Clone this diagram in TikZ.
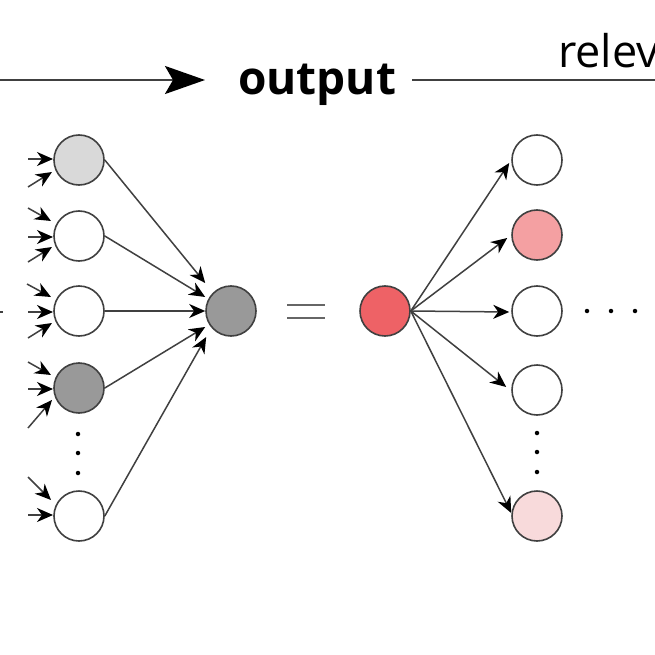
\documentclass[tikz,border=0pt]{standalone}
\usepackage{fontspec}
\newfontfamily\osans{Open Sans}
\usetikzlibrary{arrows.meta,calc}
\definecolor{strokec}{HTML}{404040}
\definecolor{lgray}{HTML}{D9D9D9}
\definecolor{mgray}{HTML}{999999}
\definecolor{redc}{HTML}{EE6266}
\definecolor{pinkc}{HTML}{F4A0A2}
\definecolor{palepink}{HTML}{F8DADB}
\tikzset{
  neuron/.style={circle,draw=strokec,line width=1.6pt,minimum size=50pt,inner sep=0pt,fill=white},
  conn/.style={draw=strokec,line width=1.5pt,-{Stealth[length=16pt,width=14pt,inset=5pt,black]}},
  topline/.style={draw=strokec,line width=2.2pt},
  dotc/.style={circle,fill=black,inner sep=0pt,minimum size=4.5pt},
}
\begin{document}
\begin{tikzpicture}[x=1pt,y=-1pt]
\useasboundingbox (0,0) rectangle (655,655);
\clip (0,0) rectangle (655,655);
\fill[white] (0,0) rectangle (655,655);
% top line with text
\node[font=\osans\bfseries\fontsize{46}{50}\selectfont,anchor=base,inner sep=0pt] (out) at (317,95) {output};
\node[font=\osans\fontsize{45}{50}\selectfont,anchor=base west,inner sep=0pt] (rel) at (558,68) {relev};
\coordinate (tl0) at (0,80);
\coordinate (tl1) at (205,80);
\coordinate (tr0) at (412,80);
\coordinate (tr1) at (660,80);
\draw[topline,-{Stealth[length=40pt,width=28pt,inset=8pt,black]}] (tl0) -- (tl1);
\draw[topline] (tr0) -- (tr1);
% left edge mark
\coordinate (mk0) at (-1,312);
\coordinate (mk1) at (3,312);
\draw[draw=strokec,line width=1.5pt] (mk0) -- (mk1);
% left column
\node[neuron,fill=lgray] (c1) at (79,160) {};
\node[neuron] (c2) at (79,236) {};
\node[neuron] (c3) at (79,311) {};
\node[neuron,fill=mgray] (c4) at (79,388) {};
\node[neuron] (c5) at (79,516) {};
\node[dotc] (ld1) at (78,434) {};
\node[dotc] (ld2) at (78,453) {};
\node[dotc] (ld3) at (78,473) {};
% inputs to left column
\draw[conn] ($(c1)+(-51,-1)$) -- ($(c1)+(-26,-1)$);
\draw[conn] ($(c1)+(-51,27)$) -- ($(c1)+(-27,12)$);
\draw[conn] ($(c2)+(-51,-28)$) -- ($(c2)+(-28,-15)$);
\draw[conn] ($(c2)+(-51,1)$) -- ($(c2)+(-26,1)$);
\draw[conn] ($(c2)+(-51,26)$) -- ($(c2)+(-27,11)$);
\draw[conn] ($(c3)+(-52,-27)$) -- ($(c3)+(-28,-14)$);
\draw[conn] ($(c3)+(-51,1)$) -- ($(c3)+(-26,1)$);
\draw[conn] ($(c3)+(-51,27)$) -- ($(c3)+(-27,12)$);
\draw[conn] ($(c4)+(-51,-26)$) -- ($(c4)+(-28,-13)$);
\draw[conn] ($(c4)+(-51,1)$) -- ($(c4)+(-26,1)$);
\draw[conn] ($(c4)+(-51,40)$) -- ($(c4)+(-27,12)$);
\draw[conn] ($(c5)+(-51,-39)$) -- ($(c5)+(-28,-16)$);
\draw[conn] ($(c5)+(-51,-1)$) -- ($(c5)+(-26,-1)$);
% middle
\node[neuron,fill=mgray] (m) at (231,311) {};
\draw[conn] (c1.east) -- ($(m.west)+(0,-28)$);
\draw[conn] (c2.east) -- ($(m.west)+(0,-14)$);
\draw[conn] (c3.east) -- (m.west);
\draw[conn] (c4.east) -- ($(m.west)+(0,16)$);
\draw[conn] (c5.east) -- ($(m.west)+(1,26)$);
% equals
\coordinate (e1a) at (287,305);
\coordinate (e1b) at (325,305);
\coordinate (e2a) at (287,318);
\coordinate (e2b) at (325,318);
\draw[draw=strokec!80,line width=2.2pt] (e1a) -- (e1b);
\draw[draw=strokec!80,line width=2.2pt] (e2a) -- (e2b);
% red neuron
\node[neuron,fill=redc] (r) at (385,311) {};
% right column
\node[neuron] (o1) at (537,160) {};
\node[neuron,fill=pinkc] (o2) at (537,235) {};
\node[neuron] (o3) at (537,311) {};
\node[neuron] (o4) at (537,390) {};
\node[neuron,fill=palepink] (o5) at (537,516) {};
\node[dotc] (rd1) at (537,433) {};
\node[dotc] (rd2) at (537,452) {};
\node[dotc] (rd3) at (537,472) {};
\node[dotc] (hd1) at (587,311) {};
\node[dotc] (hd2) at (611,311) {};
\node[dotc] (hd3) at (635,311) {};
\draw[conn] (r.east) -- ($(o1.west)+(-2,3)$);
\draw[conn] (r.east) -- ($(o2.west)+(-4,3)$);
\draw[conn] (r.east) -- ($(o3.west)+(-2,1)$);
\draw[conn] (r.east) -- ($(o4.west)+(-5,-3)$);
\draw[conn] (r.east) -- ($(o5.west)+(0,-3)$);
\end{tikzpicture}
\end{document}
